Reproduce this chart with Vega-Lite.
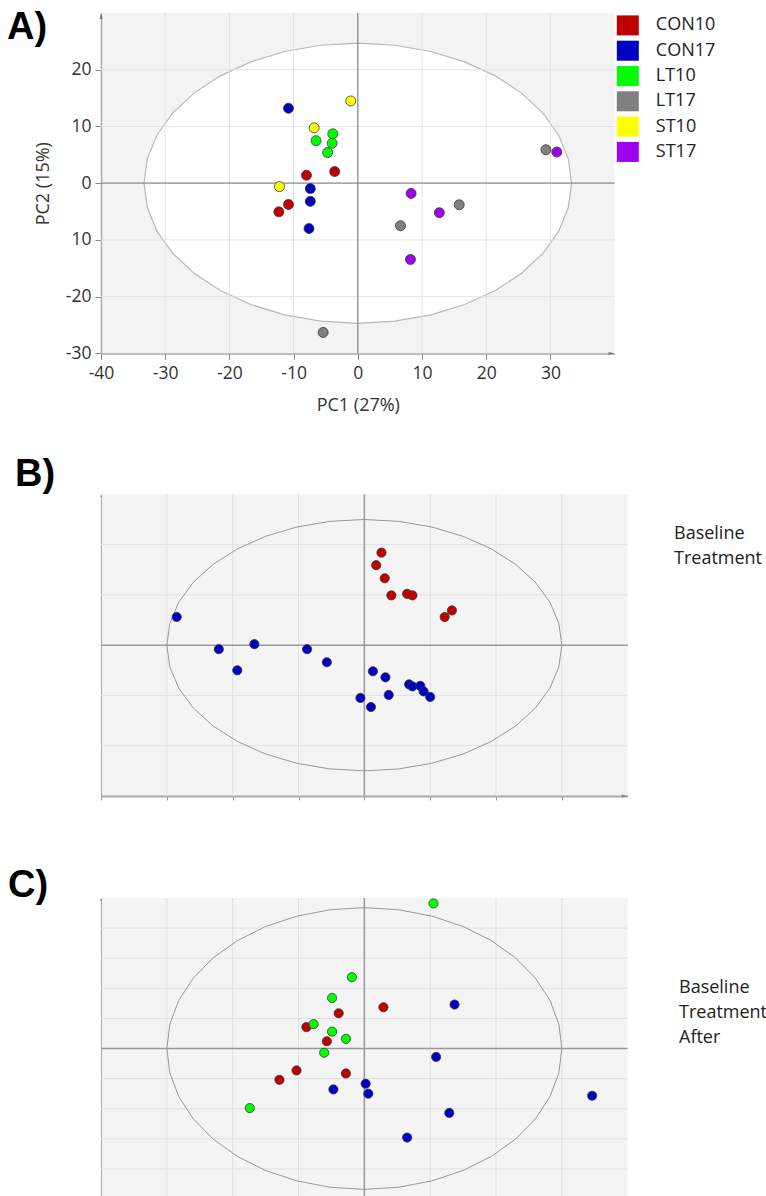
{
  "$schema": "https://vega.github.io/schema/vega-lite/v6.json",
  "padding": {"left": 7, "top": 9, "right": 0, "bottom": 0},
  "background": "white",
  "config": {"view": {"stroke": null}, "font": "Open Sans"},
  "datasets": {
    "ptsA": [
      {"pc1": -5.4, "pc2": -26.3, "g": "LT17"},
      {"pc1": -10.8, "pc2": 13.2, "g": "CON17"},
      {"pc1": -1.1, "pc2": 14.5, "g": "ST10"},
      {"pc1": -6.8, "pc2": 9.75, "g": "ST10"},
      {"pc1": -6.5, "pc2": 7.5, "g": "LT10"},
      {"pc1": -3.9, "pc2": 8.7, "g": "LT10"},
      {"pc1": -4.0, "pc2": 7.05, "g": "LT10"},
      {"pc1": -4.7, "pc2": 5.4, "g": "LT10"},
      {"pc1": -8.0, "pc2": 1.4, "g": "CON10"},
      {"pc1": -3.6, "pc2": 2.05, "g": "CON10"},
      {"pc1": -12.2, "pc2": -0.6, "g": "ST10"},
      {"pc1": -7.4, "pc2": -0.95, "g": "CON17"},
      {"pc1": -7.4, "pc2": -3.2, "g": "CON17"},
      {"pc1": -10.8, "pc2": -3.75, "g": "CON10"},
      {"pc1": -12.3, "pc2": -5.05, "g": "CON10"},
      {"pc1": -7.6, "pc2": -8.0, "g": "CON17"},
      {"pc1": 8.3, "pc2": -1.8, "g": "ST17"},
      {"pc1": 12.7, "pc2": -5.2, "g": "ST17"},
      {"pc1": 15.8, "pc2": -3.8, "g": "LT17"},
      {"pc1": 6.65, "pc2": -7.5, "g": "LT17"},
      {"pc1": 8.2, "pc2": -13.45, "g": "ST17"},
      {"pc1": 29.3, "pc2": 5.9, "g": "LT17"},
      {"pc1": 31.0, "pc2": 5.5, "g": "ST17"}
    ],
    "ptsB": [
      {"x": -2.85, "y": 0.56, "g": "Treatment"},
      {"x": -2.21, "y": -0.08, "g": "Treatment"},
      {"x": -1.67, "y": 0.02, "g": "Treatment"},
      {"x": -1.93, "y": -0.5, "g": "Treatment"},
      {"x": -0.87, "y": -0.08, "g": "Treatment"},
      {"x": -0.57, "y": -0.34, "g": "Treatment"},
      {"x": 0.13, "y": -0.52, "g": "Treatment"},
      {"x": 0.32, "y": -0.64, "g": "Treatment"},
      {"x": 0.68, "y": -0.78, "g": "Treatment"},
      {"x": 0.73, "y": -0.82, "g": "Treatment"},
      {"x": 0.85, "y": -0.81, "g": "Treatment"},
      {"x": 0.9, "y": -0.92, "g": "Treatment"},
      {"x": 1.0, "y": -1.03, "g": "Treatment"},
      {"x": 0.37, "y": -0.99, "g": "Treatment"},
      {"x": -0.06, "y": -1.05, "g": "Treatment"},
      {"x": 0.1, "y": -1.23, "g": "Treatment"},
      {"x": 0.26, "y": 1.84, "g": "Baseline"},
      {"x": 0.18, "y": 1.59, "g": "Baseline"},
      {"x": 0.31, "y": 1.33, "g": "Baseline"},
      {"x": 0.41, "y": 0.99, "g": "Baseline"},
      {"x": 0.65, "y": 1.02, "g": "Baseline"},
      {"x": 0.73, "y": 0.99, "g": "Baseline"},
      {"x": 1.33, "y": 0.69, "g": "Baseline"},
      {"x": 1.22, "y": 0.56, "g": "Baseline"}
    ],
    "ptsC": [
      {"x": 0.29, "y": 1.37, "g": "Baseline"},
      {"x": -0.39, "y": 1.17, "g": "Baseline"},
      {"x": -0.88, "y": 0.71, "g": "Baseline"},
      {"x": -0.57, "y": 0.24, "g": "Baseline"},
      {"x": -1.03, "y": -0.73, "g": "Baseline"},
      {"x": -1.29, "y": -1.04, "g": "Baseline"},
      {"x": -0.28, "y": -0.83, "g": "Baseline"},
      {"x": 1.37, "y": 1.46, "g": "Treatment"},
      {"x": 1.09, "y": -0.28, "g": "Treatment"},
      {"x": 0.02, "y": -1.17, "g": "Treatment"},
      {"x": 0.06, "y": -1.5, "g": "Treatment"},
      {"x": -0.47, "y": -1.36, "g": "Treatment"},
      {"x": 1.29, "y": -2.14, "g": "Treatment"},
      {"x": 0.65, "y": -2.96, "g": "Treatment"},
      {"x": 3.46, "y": -1.57, "g": "Treatment"},
      {"x": 1.05, "y": 4.82, "g": "After"},
      {"x": -0.19, "y": 2.37, "g": "After"},
      {"x": -0.49, "y": 1.68, "g": "After"},
      {"x": -0.77, "y": 0.81, "g": "After"},
      {"x": -0.49, "y": 0.56, "g": "After"},
      {"x": -0.28, "y": 0.32, "g": "After"},
      {"x": -0.61, "y": -0.14, "g": "After"},
      {"x": -1.74, "y": -1.98, "g": "After"}
    ],
    "ellA": [
      {"k": 0, "x": 33.3, "y": 0}, {"k": 1, "x": 32.79, "y": 4.29}, {"k": 2, "x": 31.29, "y": 8.45},
      {"k": 3, "x": 28.84, "y": 12.35}, {"k": 4, "x": 25.51, "y": 15.88}, {"k": 5, "x": 21.41, "y": 18.92},
      {"k": 6, "x": 16.65, "y": 21.39}, {"k": 7, "x": 11.39, "y": 23.21}, {"k": 8, "x": 5.78, "y": 24.32},
      {"k": 9, "x": 0, "y": 24.7}, {"k": 10, "x": -5.78, "y": 24.32}, {"k": 11, "x": -11.39, "y": 23.21},
      {"k": 12, "x": -16.65, "y": 21.39}, {"k": 13, "x": -21.41, "y": 18.92}, {"k": 14, "x": -25.51, "y": 15.88},
      {"k": 15, "x": -28.84, "y": 12.35}, {"k": 16, "x": -31.29, "y": 8.45}, {"k": 17, "x": -32.79, "y": 4.29},
      {"k": 18, "x": -33.3, "y": 0}, {"k": 19, "x": -32.79, "y": -4.29}, {"k": 20, "x": -31.29, "y": -8.45},
      {"k": 21, "x": -28.84, "y": -12.35}, {"k": 22, "x": -25.51, "y": -15.88}, {"k": 23, "x": -21.41, "y": -18.92},
      {"k": 24, "x": -16.65, "y": -21.39}, {"k": 25, "x": -11.39, "y": -23.21}, {"k": 26, "x": -5.78, "y": -24.32},
      {"k": 27, "x": 0, "y": -24.7}, {"k": 28, "x": 5.78, "y": -24.32}, {"k": 29, "x": 11.39, "y": -23.21},
      {"k": 30, "x": 16.65, "y": -21.39}, {"k": 31, "x": 21.41, "y": -18.92}, {"k": 32, "x": 25.51, "y": -15.88},
      {"k": 33, "x": 28.84, "y": -12.35}, {"k": 34, "x": 31.29, "y": -8.45}, {"k": 35, "x": 32.79, "y": -4.29}
    ],
    "ellB": [
      {"k": 0, "x": 3.0, "y": 0}, {"k": 1, "x": 2.954, "y": 0.434}, {"k": 2, "x": 2.819, "y": 0.855},
      {"k": 3, "x": 2.598, "y": 1.25}, {"k": 4, "x": 2.298, "y": 1.607}, {"k": 5, "x": 1.928, "y": 1.915},
      {"k": 6, "x": 1.5, "y": 2.165}, {"k": 7, "x": 1.026, "y": 2.349}, {"k": 8, "x": 0.521, "y": 2.462},
      {"k": 9, "x": 0, "y": 2.5}, {"k": 10, "x": -0.521, "y": 2.462}, {"k": 11, "x": -1.026, "y": 2.349},
      {"k": 12, "x": -1.5, "y": 2.165}, {"k": 13, "x": -1.928, "y": 1.915}, {"k": 14, "x": -2.298, "y": 1.607},
      {"k": 15, "x": -2.598, "y": 1.25}, {"k": 16, "x": -2.819, "y": 0.855}, {"k": 17, "x": -2.954, "y": 0.434},
      {"k": 18, "x": -3.0, "y": 0}, {"k": 19, "x": -2.954, "y": -0.434}, {"k": 20, "x": -2.819, "y": -0.855},
      {"k": 21, "x": -2.598, "y": -1.25}, {"k": 22, "x": -2.298, "y": -1.607}, {"k": 23, "x": -1.928, "y": -1.915},
      {"k": 24, "x": -1.5, "y": -2.165}, {"k": 25, "x": -1.026, "y": -2.349}, {"k": 26, "x": -0.521, "y": -2.462},
      {"k": 27, "x": 0, "y": -2.5}, {"k": 28, "x": 0.521, "y": -2.462}, {"k": 29, "x": 1.026, "y": -2.349},
      {"k": 30, "x": 1.5, "y": -2.165}, {"k": 31, "x": 1.928, "y": -1.915}, {"k": 32, "x": 2.298, "y": -1.607},
      {"k": 33, "x": 2.598, "y": -1.25}, {"k": 34, "x": 2.819, "y": -0.855}, {"k": 35, "x": 2.954, "y": -0.434}
    ],
    "ellC": [
      {"k": 0, "x": 3.0, "y": 0}, {"k": 1, "x": 2.954, "y": 0.812}, {"k": 2, "x": 2.819, "y": 1.601},
      {"k": 3, "x": 2.598, "y": 2.34}, {"k": 4, "x": 2.298, "y": 3.008}, {"k": 5, "x": 1.928, "y": 3.585},
      {"k": 6, "x": 1.5, "y": 4.053}, {"k": 7, "x": 1.026, "y": 4.398}, {"k": 8, "x": 0.521, "y": 4.609},
      {"k": 9, "x": 0, "y": 4.68}, {"k": 10, "x": -0.521, "y": 4.609}, {"k": 11, "x": -1.026, "y": 4.398},
      {"k": 12, "x": -1.5, "y": 4.053}, {"k": 13, "x": -1.928, "y": 3.585}, {"k": 14, "x": -2.298, "y": 3.008},
      {"k": 15, "x": -2.598, "y": 2.34}, {"k": 16, "x": -2.819, "y": 1.601}, {"k": 17, "x": -2.954, "y": 0.812},
      {"k": 18, "x": -3.0, "y": 0}, {"k": 19, "x": -2.954, "y": -0.812}, {"k": 20, "x": -2.819, "y": -1.601},
      {"k": 21, "x": -2.598, "y": -2.34}, {"k": 22, "x": -2.298, "y": -3.008}, {"k": 23, "x": -1.928, "y": -3.585},
      {"k": 24, "x": -1.5, "y": -4.053}, {"k": 25, "x": -1.026, "y": -4.398}, {"k": 26, "x": -0.521, "y": -4.609},
      {"k": 27, "x": 0, "y": -4.68}, {"k": 28, "x": 0.521, "y": -4.609}, {"k": 29, "x": 1.026, "y": -4.398},
      {"k": 30, "x": 1.5, "y": -4.053}, {"k": 31, "x": 1.928, "y": -3.585}, {"k": 32, "x": 2.298, "y": -3.008},
      {"k": 33, "x": 2.598, "y": -2.34}, {"k": 34, "x": 2.819, "y": -1.601}, {"k": 35, "x": 2.954, "y": -0.812}
    ],
    "gxA": [{"v": -30}, {"v": -20}, {"v": -10}, {"v": 10}, {"v": 20}, {"v": 30}],
    "gyA": [{"v": -20}, {"v": -10}, {"v": 10}, {"v": 20}],
    "gxB": [{"v": -3}, {"v": -2}, {"v": -1}, {"v": 1}, {"v": 2}, {"v": 3}],
    "gyB": [{"v": -2}, {"v": -1}, {"v": 1}, {"v": 2}],
    "gyC": [{"v": -4}, {"v": -3}, {"v": -2}, {"v": -1}, {"v": 1}, {"v": 2}, {"v": 3}, {"v": 4}],
    "zero": [{"v": 0}],
    "arrA": [{"x": 40, "y": -30, "d": "r"}, {"x": -40, "y": 30, "d": "u"}],
    "arrB": [{"x": 4, "y": -3, "d": "r"}, {"x": -4, "y": 3, "d": "u"}],
    "arrC": [{"x": -4, "y": 5, "d": "u"}]
  },
  "spacing": 140.3,
  "bounds": "flush",
  "resolve": {"scale": {"color": "independent"}, "legend": {"color": "independent"}},
  "vconcat": [
    {
      "width": 513.6,
      "height": 340.4,
      "view": {"fill": "#f3f3f3", "stroke": null},
      "title": {"text": "A)", "anchor": "start", "frame": "group", "orient": "top", "offset": 0, "dx": -94, "dy": 35, "baseline": "top", "font": "Liberation Sans", "fontSize": 38, "fontWeight": "bold", "color": "#000"},
      "layer": [
        {
          "data": {"name": "ellA"},
          "mark": {"type": "line", "interpolate": "linear-closed", "fill": "white", "stroke": "#b8b8b8", "strokeWidth": 1.2},
          "encoding": {
            "x": {"field": "x", "type": "quantitative", "scale": {"domain": [-40, 40], "nice": false, "zero": false},
              "axis": {"values": [-40, -35, -30, -25, -20, -15, -10, -5, 0, 5, 10, 15, 20, 25, 30, 35],
                "labelExpr": "datum.value % 10 == 0 ? '' + datum.value : ''",
                "title": "PC1 (27%)", "grid": false, "domainColor": "#aaaaaa", "domainWidth": 1.5,
                "tickColor": "#888888", "tickSize": {"condition": {"test": "datum.value % 10 != 0", "value": 3}, "value": 6},
                "labelFont": "Open Sans", "labelFontSize": 17.5, "labelColor": "#333333", "labelPadding": 5,
                "labelFlush": false, "labelOverlap": false,
                "titleFont": "Open Sans", "titleFontSize": 18, "titleFontWeight": "normal", "titleColor": "#333333", "titlePadding": 15}},
            "y": {"field": "y", "type": "quantitative", "scale": {"domain": [-30, 30], "nice": false, "zero": false},
              "axis": {"values": [-30, -25, -20, -15, -10, -5, 0, 5, 10, 15, 20, 25],
                "labelExpr": "datum.value == -10 ? '10' : (datum.value % 10 == 0 ? '' + datum.value : '')",
                "title": "PC2 (15%)", "grid": false, "domainColor": "#aaaaaa", "domainWidth": 1.5,
                "tickColor": "#888888", "tickSize": {"condition": {"test": "datum.value % 10 != 0", "value": 3}, "value": 6},
                "labelFont": "Open Sans", "labelFontSize": 17.5, "labelColor": "#333333", "labelPadding": 4,
                "labelFlush": false, "labelOverlap": false,
                "titleFont": "Open Sans", "titleFontSize": 18, "titleFontWeight": "normal", "titleColor": "#333333", "titlePadding": 13}},
            "order": {"field": "k", "type": "quantitative"}
          }
        },
        {"data": {"name": "gxA"}, "mark": {"type": "rule", "stroke": "#e2e2e2", "strokeWidth": 1}, "encoding": {"x": {"field": "v", "type": "quantitative"}}},
        {"data": {"name": "gyA"}, "mark": {"type": "rule", "stroke": "#e2e2e2", "strokeWidth": 1}, "encoding": {"y": {"field": "v", "type": "quantitative"}}},
        {"data": {"name": "zero"}, "mark": {"type": "rule", "stroke": "#8a8a8a", "strokeWidth": 1.3}, "encoding": {"x": {"field": "v", "type": "quantitative"}}},
        {"data": {"name": "zero"}, "mark": {"type": "rule", "stroke": "#8a8a8a", "strokeWidth": 1.3}, "encoding": {"y": {"field": "v", "type": "quantitative"}}},
        {"data": {"name": "arrA"}, "transform": [{"filter": "datum.d == 'r'"}], "mark": {"type": "point", "shape": "M-2,-0.5L0,0L-2,0.5Z", "size": 36, "filled": true, "color": "#777777", "opacity": 1}, "encoding": {"x": {"field": "x", "type": "quantitative"}, "y": {"field": "y", "type": "quantitative"}}},
        {"data": {"name": "arrA"}, "transform": [{"filter": "datum.d == 'u'"}], "mark": {"type": "point", "shape": "M-0.5,2L0,0L0.5,2Z", "size": 36, "filled": true, "color": "#777777", "opacity": 1}, "encoding": {"x": {"field": "x", "type": "quantitative"}, "y": {"field": "y", "type": "quantitative"}}},
        {
          "data": {"name": "ptsA"},
          "mark": {"type": "point", "filled": true, "size": 100, "opacity": 1, "stroke": "#3a3a3a", "strokeWidth": 0.8},
          "encoding": {
            "x": {"field": "pc1", "type": "quantitative"},
            "y": {"field": "pc2", "type": "quantitative"},
            "color": {"field": "g", "type": "nominal",
              "scale": {"domain": ["CON10", "CON17", "LT10", "LT17", "ST10", "ST17"], "range": ["#c00000", "#0000c0", "#00ff00", "#808080", "#ffff00", "#9f00f0"]},
              "legend": {"orient": "none", "legendX": 516.8, "legendY": 2.4, "title": null, "padding": 0,
                "symbolType": "M-1.1,-1H1.1V1H-1.1Z", "symbolSize": 400, "symbolStrokeWidth": 0, "symbolStrokeColor": "transparent", "symbolOpacity": 1,
                "labelFont": "Open Sans", "labelFontSize": 18, "labelColor": "#222222", "labelOffset": 18, "rowPadding": 5.3}}
          }
        }
      ]
    },
    {
      "spacing": 101.7,
      "bounds": "flush",
      "resolve": {"scale": {"color": "independent"}, "legend": {"color": "independent"}},
      "vconcat": [
        {
          "width": 526.7,
          "height": 301.7,
          "view": {"fill": "#f4f4f4", "stroke": null},
          "title": {"text": "B)", "anchor": "start", "frame": "group", "orient": "top", "offset": 0, "dx": -86, "dy": 0.7, "baseline": "top", "font": "Liberation Sans", "fontSize": 38, "fontWeight": "bold", "color": "#000"},
          "layer": [
            {"data": {"name": "gxB"}, "mark": {"type": "rule", "stroke": "#e0e0e0", "strokeWidth": 1},
              "encoding": {"x": {"field": "v", "type": "quantitative", "scale": {"domain": [-4, 4], "nice": false, "zero": false},
                "axis": {"values": [-4, -3.5, -3, -2.5, -2, -1.5, -1, -0.5, 0, 0.5, 1, 1.5, 2, 2.5, 3, 3.5], "labels": false, "title": null, "grid": false,
                  "domainColor": "#aaaaaa", "domainWidth": 2, "tickColor": "#999999", "tickSize": 4}}}},
            {"data": {"name": "gyB"}, "mark": {"type": "rule", "stroke": "#e0e0e0", "strokeWidth": 1},
              "encoding": {"y": {"field": "v", "type": "quantitative", "scale": {"domain": [-3, 3], "nice": false, "zero": false},
                "axis": {"labels": false, "ticks": false, "title": null, "grid": false, "domainColor": "#aaaaaa", "domainWidth": 1}}}},
            {"data": {"name": "zero"}, "mark": {"type": "rule", "stroke": "#999999", "strokeWidth": 1.5}, "encoding": {"x": {"field": "v", "type": "quantitative"}}},
            {"data": {"name": "zero"}, "mark": {"type": "rule", "stroke": "#999999", "strokeWidth": 1.5}, "encoding": {"y": {"field": "v", "type": "quantitative"}}},
            {"data": {"name": "ellB"}, "mark": {"type": "line", "interpolate": "linear-closed", "stroke": "#999999", "strokeWidth": 1},
              "encoding": {"x": {"field": "x", "type": "quantitative"}, "y": {"field": "y", "type": "quantitative"}, "order": {"field": "k", "type": "quantitative"}}},
            {"data": {"name": "arrB"}, "transform": [{"filter": "datum.d == 'r'"}], "mark": {"type": "point", "shape": "M-2,-0.5L0,0L-2,0.5Z", "size": 36, "filled": true, "color": "#888888", "opacity": 1}, "encoding": {"x": {"field": "x", "type": "quantitative"}, "y": {"field": "y", "type": "quantitative"}}},
            {"data": {"name": "arrB"}, "transform": [{"filter": "datum.d == 'u'"}], "mark": {"type": "point", "shape": "M-0.5,2L0,0L0.5,2Z", "size": 9, "filled": true, "color": "#888888", "opacity": 1}, "encoding": {"x": {"field": "x", "type": "quantitative"}, "y": {"field": "y", "type": "quantitative"}}},
            {
              "data": {"name": "ptsB"},
              "mark": {"type": "point", "filled": true, "size": 85, "opacity": 1, "stroke": "#3a3a3a", "strokeWidth": 0.8},
              "encoding": {
                "x": {"field": "x", "type": "quantitative"},
                "y": {"field": "y", "type": "quantitative"},
                "color": {"field": "g", "type": "nominal",
                  "scale": {"domain": ["Baseline", "Treatment"], "range": ["#c00000", "#0000c0"]},
                  "legend": {"orient": "none", "legendX": 555, "legendY": 30.6, "title": null, "padding": 0,
                    "symbolType": "square", "symbolSize": 16, "symbolOpacity": 0, "symbolStrokeWidth": 0,
                    "labelFont": "Open Sans", "labelFontSize": 18, "labelColor": "#222222", "labelOffset": 0, "rowPadding": 7}}
              }
            }
          ]
        },
        {
          "width": 526.7,
          "height": 301,
          "view": {"fill": "#f4f4f4", "stroke": null},
          "title": {"text": "C)", "anchor": "start", "frame": "group", "orient": "top", "offset": 0, "dx": -93, "dy": 7.8, "baseline": "top", "font": "Liberation Sans", "fontSize": 38, "fontWeight": "bold", "color": "#000"},
          "layer": [
            {"data": {"name": "gxB"}, "mark": {"type": "rule", "stroke": "#e0e0e0", "strokeWidth": 1},
              "encoding": {"x": {"field": "v", "type": "quantitative", "scale": {"domain": [-4, 4], "nice": false, "zero": false},
                "axis": {"values": [-4, -3.5, -3, -2.5, -2, -1.5, -1, -0.5, 0, 0.5, 1, 1.5, 2, 2.5, 3, 3.5], "labels": false, "title": null, "grid": false,
                  "domainColor": "#aaaaaa", "domainWidth": 2, "tickColor": "#999999", "tickSize": 4}}}},
            {"data": {"name": "gyC"}, "mark": {"type": "rule", "stroke": "#e0e0e0", "strokeWidth": 1},
              "encoding": {"y": {"field": "v", "type": "quantitative", "scale": {"domain": [-5, 5], "nice": false, "zero": false},
                "axis": {"labels": false, "ticks": false, "title": null, "grid": false, "domainColor": "#aaaaaa", "domainWidth": 1}}}},
            {"data": {"name": "zero"}, "mark": {"type": "rule", "stroke": "#999999", "strokeWidth": 1.5}, "encoding": {"x": {"field": "v", "type": "quantitative"}}},
            {"data": {"name": "zero"}, "mark": {"type": "rule", "stroke": "#999999", "strokeWidth": 1.5}, "encoding": {"y": {"field": "v", "type": "quantitative"}}},
            {"data": {"name": "ellC"}, "mark": {"type": "line", "interpolate": "linear-closed", "stroke": "#999999", "strokeWidth": 1},
              "encoding": {"x": {"field": "x", "type": "quantitative"}, "y": {"field": "y", "type": "quantitative"}, "order": {"field": "k", "type": "quantitative"}}},
            {"data": {"name": "arrC"}, "mark": {"type": "point", "shape": "M-0.5,2L0,0L0.5,2Z", "size": 9, "filled": true, "color": "#888888", "opacity": 1}, "encoding": {"x": {"field": "x", "type": "quantitative"}, "y": {"field": "y", "type": "quantitative"}}},
            {
              "data": {"name": "ptsC"},
              "mark": {"type": "point", "filled": true, "size": 85, "opacity": 1, "stroke": "#3a3a3a", "strokeWidth": 0.8},
              "encoding": {
                "x": {"field": "x", "type": "quantitative"},
                "y": {"field": "y", "type": "quantitative"},
                "color": {"field": "g", "type": "nominal",
                  "scale": {"domain": ["Baseline", "Treatment", "After"], "range": ["#c00000", "#0000c0", "#00ff00"]},
                  "legend": {"orient": "none", "legendX": 560, "legendY": 81, "title": null, "padding": 0,
                    "symbolType": "square", "symbolSize": 16, "symbolOpacity": 0, "symbolStrokeWidth": 0,
                    "labelFont": "Open Sans", "labelFontSize": 18, "labelColor": "#222222", "labelOffset": 0, "rowPadding": 7}}
              }
            }
          ]
        }
      ]
    }
  ]
}
